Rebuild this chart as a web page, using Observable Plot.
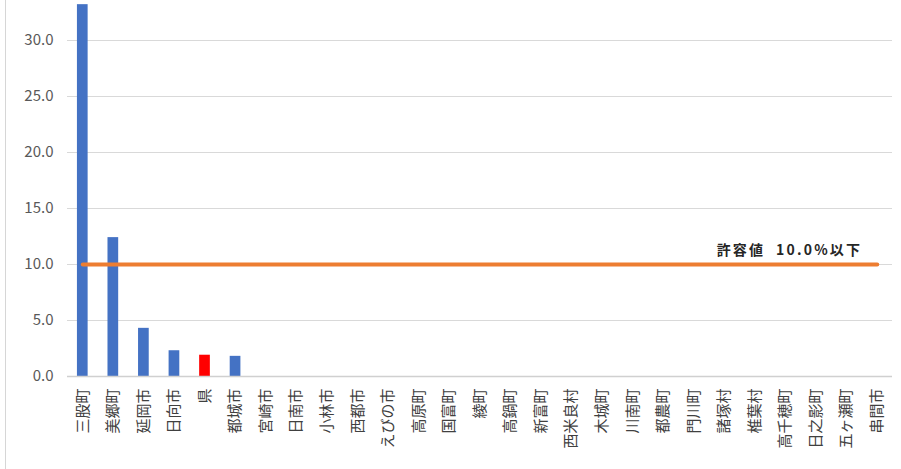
<!DOCTYPE html>
<html>
<head>
<meta charset="utf-8">
<script src="https://cdn.jsdelivr.net/npm/d3@7"></script>
<script src="https://cdn.jsdelivr.net/npm/@observablehq/plot@0.6"></script>
<style>
  body { margin: 0; background: #fff; }
  #wrap { position: relative; width: 901px; height: 469px; }
  #edge { position: absolute; left: 5px; top: 0; width: 1px; height: 469px; background: #d6d6d6; }
</style>
</head>
<body>
<div id="wrap"><div id="edge"></div></div>
<script>
const categories = ["三股町","美郷町","延岡市","日向市","県","都城市","宮崎市","日南市","小林市","西都市","えびの市","高原町","国富町","綾町","高鍋町","新富町","西米良村","木城町","川南町","都農町","門川町","諸塚村","椎葉村","高千穂町","日之影町","五ヶ瀬町","串間市"];
const values = [33.2,12.4,4.3,2.3,1.9,1.8,0,0,0,0,0,0,0,0,0,0,0,0,0,0,0,0,0,0,0,0,0];
const highlight = "県";
const limitValue = 10.0;
const limitLabel = "許容値  10.0%以下";
const yTicks = [0,5,10,15,20,25,30];

const data = categories.map((c, i) => ({c, v: values[i]}));
const limitData = categories.map(c => ({c, v: limitValue}));

const chart = Plot.plot({
  width: 901,
  height: 469,
  marginLeft: 67,
  marginRight: 9,
  marginTop: 40,
  marginBottom: 93,
  style: {fontFamily: "'Noto Sans CJK JP', 'Noto Sans', sans-serif", background: "transparent"},
  x: {domain: categories, paddingInner: 0.65, paddingOuter: 0.325, round: false, label: null},
  y: {domain: [0, 30], label: null},
  marks: [
    Plot.gridY(yTicks, {stroke: "#d9d9d9", strokeOpacity: 1}),
    Plot.barY(data, {x: "c", y: "v", fill: d => d.c === highlight ? "#ff0000" : "#4472c4"}),
    Plot.ruleY([0], {stroke: "#d0d0d0", strokeWidth: 1.5}),
    Plot.lineY(limitData, {x: "c", y: "v", stroke: "#ed7d31", strokeWidth: 4}),
    Plot.text([limitData[limitData.length - 1]], {x: "c", y: "v", text: () => limitLabel, textAnchor: "end", dx: -15, dy: -14, fontWeight: "bold", fontSize: 14, fill: "#262626"}),
    Plot.axisY({ticks: yTicks, tickFormat: d => d.toFixed(1), tickSize: 0, tickPadding: 14, fontSize: 15, fill: "#595959"}),
    Plot.axisX({tickRotate: -90, tickSize: 0, tickPadding: 12, fontSize: 15, fill: "#404040", label: null})
  ]
});
d3.select(chart).selectAll("text")
  .filter(function() { return this.textContent === limitLabel; })
  .attr("letter-spacing", "2.2px");
document.getElementById("wrap").appendChild(chart);
</script>
</body>
</html>
